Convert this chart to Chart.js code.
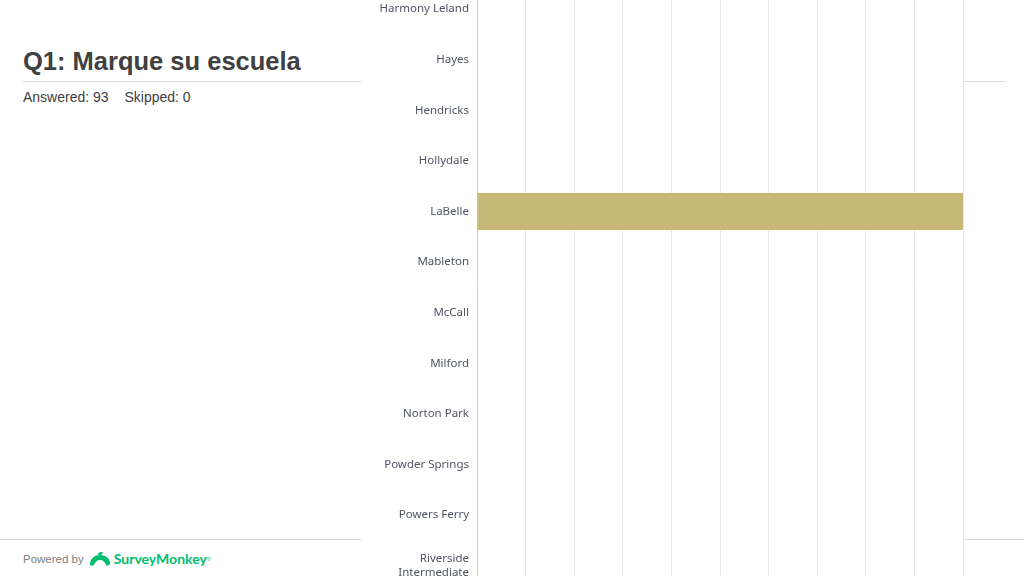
<!DOCTYPE html>
<html>
<head>
<meta charset="utf-8">
<script src="https://cdn.jsdelivr.net/npm/chart.js@4"></script>
<style>
  html, body { margin: 0; padding: 0; }
  body { width: 1024px; height: 576px; overflow: hidden; position: relative; background: #fff; font-family: "Liberation Sans", Arial, sans-serif; }
  .title { position: absolute; left: 23px; top: 47px; font-size: 25.5px; font-weight: bold; color: #404040; }
  .rule { position: absolute; left: 23px; top: 81px; width: 983px; height: 1px; background: #dcdcdc; }
  .stats { position: absolute; left: 23px; top: 89px; font-size: 14px; color: #404040; }
  .stats span { margin-right: 12px; }
  .foot-rule { position: absolute; left: 0; top: 539px; width: 1024px; height: 1px; background: #d6d6d6; }
  .foot { position: absolute; left: 23px; top: 550px; font-size: 11.5px; color: #808080; display: flex; align-items: center; }
  .foot .brand { color: #00bf6f; font-weight: bold; font-size: 14px; margin-left: 2px; font-family: Lato, sans-serif; }
  .wrap { position: absolute; left: 361px; top: -38px; width: 603px; height: 644px; background: #fff; }
</style>
</head>
<body>
<div class="title">Q1: Marque su escuela</div>
<div class="rule"></div>
<div class="stats"><span>Answered: 93</span> <span>Skipped: 0</span></div>
<div class="foot-rule"></div>
<div class="foot">Powered by
  <svg width="24" height="16" viewBox="0 0 24 16" style="margin-left:4px">
    <path d="M2 14 C2 7 7 4 12 4 C17 4 22 7 22 12 C22 14 20 15 18 14 C17 11 15 9 12 9 C9 9 7 11 6 14 C5 15 3 15 2 14 Z" fill="#00bf6f"/>
    <path d="M10 4 C10 1 14 0 15 2 L13 4 Z" fill="#00bf6f"/>
  </svg>
  <span class="brand">SurveyMonkey</span><span style="color:#00bf6f;font-size:6px;vertical-align:top">&reg;</span>
</div>
<div class="wrap"><canvas id="chart"></canvas></div>

<script>
const schools = ["Harmony Leland", "Hayes", "Hendricks", "Hollydale", "LaBelle", "Mableton",
  "McCall", "Milford", "Norton Park", "Powder Springs", "Powers Ferry", ["Riverside", "Intermediate"]];
const percents = [0, 0, 0, 0, 100, 0, 0, 0, 0, 0, 0, 0];
const xTicks = [0, 10, 20, 30, 40, 50, 60, 70, 80, 90, 100];

const canvas = document.getElementById("chart");

new Chart(canvas, {
  type: "bar",
  data: {
    labels: schools,
    datasets: [
      {
        label: "Q1: Marque su escuela",
        data: percents,
        backgroundColor: "#c7b878",
        borderWidth: 0,
        categoryPercentage: 0.73,
        barPercentage: 1
      }
    ]
  },
  options: {
    indexAxis: "y",
    responsive: true,
    maintainAspectRatio: false,
    animation: false,
    layout: { padding: { top: 0, bottom: 0, left: 0, right: 1 } },
    plugins: { legend: { display: false }, tooltip: { enabled: false } },
    scales: {
      x: {
        min: 0,
        max: 100,
        afterBuildTicks: (scale) => { scale.ticks = xTicks.map(v => ({ value: v })); },
        ticks: { display: false },
        grid: { color: "#e9e9e9", drawTicks: false },
        border: { display: false }
      },
      y: {
        afterFit: (scale) => { scale.width = 116; },
        ticks: {
          padding: 8,
          color: "#4f5560",
          font: { family: "'Noto Sans', sans-serif", size: 11.5 }
        },
        grid: { display: false, drawTicks: false },
        border: { display: true, color: "#cfcfcf", width: 1 }
      }
    }
  }
});
</script>
</body>
</html>
